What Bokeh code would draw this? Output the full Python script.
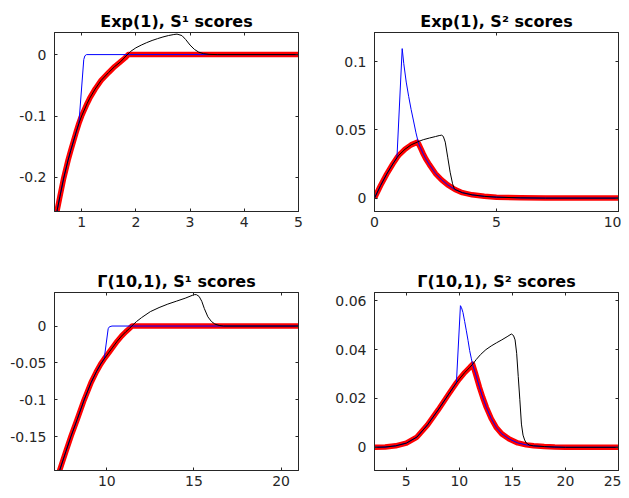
from bokeh.plotting import figure
from bokeh.layouts import column, row
from bokeh.models import FixedTicker, LinearAxis, Range1d
from bokeh.embed import file_html
from bokeh.resources import INLINE

# ---------------- data ----------------
titles = ["Exp(1), S\u00b9 scores", "Exp(1), S\u00b2 scores",
          "\u0393(10,1), S\u00b9 scores", "\u0393(10,1), S\u00b2 scores"]

# Panel 1: Exp(1), S1
p1_red_x = [0.50, 0.55, 0.60, 0.67, 0.75, 0.80, 0.90, 0.95, 1.00, 1.10, 1.15, 1.25, 1.36, 1.50, 1.61, 1.72, 1.80, 1.86, 5.00]
p1_red_y = [-0.280, -0.253, -0.231, -0.201, -0.172, -0.156, -0.126, -0.112, -0.100, -0.080, -0.071, -0.056, -0.042, -0.029, -0.0195, -0.0115, -0.0055, 0.0, 0.0]
p1_blue_x = [0.50, 0.55, 0.60, 0.67, 0.75, 0.80, 0.90, 0.95, 1.04, 1.06, 1.09, 5.00]
p1_blue_y = [-0.280, -0.253, -0.231, -0.201, -0.172, -0.156, -0.126, -0.112, -0.008, -0.002, 0.0, 0.0]
p1_black_x = [0.50, 0.55, 0.60, 0.67, 0.75, 0.80, 0.90, 0.95, 1.00, 1.10, 1.15, 1.25, 1.36, 1.50, 1.61, 1.72,
              1.80, 1.90, 2.00, 2.10, 2.20, 2.30, 2.40, 2.50, 2.60, 2.70, 2.76,
              2.85, 2.92, 3.00, 3.08, 3.16, 3.25, 3.35, 3.50, 5.00]
p1_black_y = [-0.280, -0.253, -0.231, -0.201, -0.172, -0.156, -0.126, -0.112, -0.100, -0.080, -0.071, -0.056, -0.042, -0.029, -0.0195, -0.0115,
              -0.004, 0.005, 0.011, 0.0155, 0.0195, 0.023, 0.026, 0.0287, 0.031, 0.0327, 0.0334,
              0.031, 0.0245, 0.0155, 0.0085, 0.004, 0.0015, 0.0004, 0.0, 0.0]

# Panel 2: Exp(1), S2
p2_red_x = [0.0, 0.25, 0.5, 0.75, 0.92, 1.0, 1.25, 1.5, 1.75, 1.8, 1.9, 2.0, 2.1, 2.25, 2.5, 2.75, 3.0, 3.3, 3.6, 4.0, 4.5, 5.0, 6.0, 7.0, 10.0]
p2_red_y = [0.0, 0.0092, 0.0176, 0.0250, 0.0296, 0.0315, 0.0358, 0.0390, 0.0410, 0.0400, 0.0362, 0.0323, 0.0288, 0.0245, 0.0180, 0.0134, 0.0097, 0.0063, 0.0040, 0.0024, 0.0013, 0.0007, 0.0002, 0.0, 0.0]
p2_blue_x = [0.0, 0.25, 0.5, 0.75, 0.92, 1.135, 1.2, 1.3, 1.4, 1.5, 1.6, 1.7, 1.8, 1.85,
             1.9, 2.0, 2.1, 2.25, 2.5, 2.75, 3.0, 3.3, 3.6, 4.0, 4.5, 5.0, 6.0, 7.0, 10.0]
p2_blue_y = [0.0, 0.0092, 0.0176, 0.0250, 0.0296, 0.1095, 0.0985, 0.0850, 0.0745, 0.0650, 0.0565, 0.0478, 0.0405, 0.0381,
             0.0362, 0.0323, 0.0288, 0.0245, 0.0180, 0.0134, 0.0097, 0.0063, 0.0040, 0.0024, 0.0013, 0.0007, 0.0002, 0.0, 0.0]
p2_black_x = [0.0, 0.25, 0.5, 0.75, 0.92, 1.0, 1.25, 1.5, 1.75,
              1.85, 2.0, 2.25, 2.5, 2.65, 2.75, 2.82, 2.9, 3.0, 3.1, 3.2, 3.27,
              3.3, 3.6, 4.0, 4.5, 5.0, 6.0, 7.0, 10.0]
p2_black_y = [0.0, 0.0092, 0.0176, 0.0250, 0.0296, 0.0315, 0.0358, 0.0390, 0.0410,
              0.0418, 0.0428, 0.0440, 0.0451, 0.0458, 0.0461, 0.0452, 0.0410, 0.0300, 0.0190, 0.0105, 0.0068,
              0.0063, 0.0040, 0.0024, 0.0013, 0.0007, 0.0002, 0.0, 0.0]

# Panel 3: Gamma(10,1), S1
p3_red_x = [7.0, 7.3, 7.65, 7.95, 8.3, 8.7, 9.1, 9.4, 9.65, 9.85, 10.1, 10.35, 10.6, 10.85, 11.1, 11.3, 11.45, 21.0]
p3_red_y = [-0.216, -0.195, -0.170, -0.149, -0.1265, -0.100, -0.0765, -0.062, -0.0515, -0.0445, -0.0365, -0.0285, -0.0205, -0.0135, -0.0075, -0.0033, 0.0, 0.0]
p3_blue_x = [7.0, 7.3, 7.65, 7.95, 8.3, 8.7, 9.1, 9.4, 9.65, 9.85, 10.08, 10.15, 10.3, 21.0]
p3_blue_y = [-0.216, -0.195, -0.170, -0.149, -0.1265, -0.100, -0.0765, -0.062, -0.0515, -0.0445, -0.0036, -0.001, 0.0, 0.0]
p3_black_x = [7.0, 7.3, 7.65, 7.95, 8.3, 8.7, 9.1, 9.4, 9.65, 9.85, 10.1, 10.35, 10.6, 10.85, 11.1, 11.3,
              11.45, 11.7, 12.0, 12.5, 13.0, 13.5, 14.0, 14.5, 14.9, 15.05, 15.15, 15.3, 15.45, 15.6, 15.8, 16.0, 16.2, 16.45, 16.7, 21.0]
p3_black_y = [-0.216, -0.195, -0.170, -0.149, -0.1265, -0.100, -0.0765, -0.062, -0.0515, -0.0445, -0.0365, -0.0285, -0.0205, -0.0135, -0.0075, -0.0033,
              0.0005, 0.006, 0.0115, 0.0195, 0.025, 0.0297, 0.0337, 0.0377, 0.0415, 0.0426, 0.0424, 0.0400, 0.0335, 0.0235, 0.0125, 0.0063, 0.0027, 0.0008, 0.0, 0.0]

# Panel 4: Gamma(10,1), S2
p4_red_x = [2.0, 3.0, 4.0, 5.0, 6.0, 7.0, 8.0, 9.0, 9.72, 10.0, 10.5, 11.0, 11.25,
            11.5, 11.9, 12.2, 12.54, 13.0, 13.5, 14.0, 14.7, 15.5, 16.3, 17.0, 18.0, 19.0, 20.0, 25.0]
p4_red_y = [0.0, 0.0001, 0.0006, 0.0017, 0.0042, 0.0092, 0.0153, 0.0218, 0.0264, 0.0280, 0.0306, 0.0328, 0.0340,
            0.0305, 0.0245, 0.0205, 0.0164, 0.0118, 0.0080, 0.0055, 0.0034, 0.0018, 0.0010, 0.0006, 0.0003, 0.0001, 0.0, 0.0]
p4_blue_x = [2.0, 3.0, 4.0, 5.0, 6.0, 7.0, 8.0, 9.0, 9.72,
             10.1, 10.2, 10.34, 10.5, 10.66, 10.82, 10.97, 11.12, 11.28,
             11.5, 11.9, 12.2, 12.54, 13.0, 13.5, 14.0, 14.7, 15.5, 16.3, 17.0, 18.0, 19.0, 20.0, 25.0]
p4_blue_y = [0.0, 0.0001, 0.0006, 0.0017, 0.0042, 0.0092, 0.0153, 0.0218, 0.0264,
             0.0580, 0.0572, 0.0552, 0.0515, 0.0477, 0.0437, 0.0396, 0.0365, 0.0334,
             0.0305, 0.0245, 0.0205, 0.0164, 0.0118, 0.0080, 0.0055, 0.0034, 0.0018, 0.0010, 0.0006, 0.0003, 0.0001, 0.0, 0.0]
p4_black_x = [2.0, 3.0, 4.0, 5.0, 6.0, 7.0, 8.0, 9.0, 9.72, 10.0, 10.5, 11.0, 11.25,
              11.6, 12.0, 12.5, 13.0, 13.5, 14.0, 14.5, 14.9, 15.1, 15.25, 15.4, 15.55, 15.7, 15.85, 16.0, 16.15, 16.3, 16.6,
              17.0, 18.0, 19.0, 20.0, 25.0]
p4_black_y = [0.0, 0.0001, 0.0006, 0.0017, 0.0042, 0.0092, 0.0153, 0.0218, 0.0264, 0.0280, 0.0306, 0.0328, 0.0340,
              0.0360, 0.0380, 0.0400, 0.0415, 0.0428, 0.0440, 0.0453, 0.0464, 0.0458, 0.0440, 0.0385, 0.0290, 0.0195, 0.0095, 0.0050, 0.0030, 0.0018, 0.0009,
              0.0006, 0.0003, 0.0001, 0.0, 0.0]

# axis limits and ticks
p1_xlim, p1_ylim = (0.5, 5.0), (-0.2555, 0.036)
p2_xlim, p2_ylim = (0.0, 10.0), (-0.0098, 0.1213)
p3_xlim, p3_ylim = (7.0, 21.0), (-0.1955, 0.0454)
p4_xlim, p4_ylim = (2.0, 25.0), (-0.0095, 0.0634)

p1_xticks, p1_xlabels = [1, 2, 3, 4, 5], ["1", "2", "3", "4", "5"]
p1_yticks, p1_ylabels = [-0.2, -0.1, 0], ["-0.2", "-0.1", "0"]
p2_xticks, p2_xlabels = [0, 5, 10], ["0", "5", "10"]
p2_yticks, p2_ylabels = [0, 0.05, 0.1], ["0", "0.05", "0.1"]
p3_xticks, p3_xlabels = [10, 15, 20], ["10", "15", "20"]
p3_yticks, p3_ylabels = [-0.15, -0.1, -0.05, 0], ["-0.15", "-0.1", "-0.05", "0"]
p4_xticks, p4_xlabels = [5, 10, 15, 20, 25], ["5", "10", "15", "20", "25"]
p4_yticks, p4_ylabels = [0, 0.02, 0.04, 0.06], ["0", "0.02", "0.04", "0.06"]

AX = "#262626"
FONT = "DejaVu Sans"
TITLE_SIZE = "16px"


def style_axis(ax, ticks, labels, show_labels, standoff):
    ax.ticker = FixedTicker(ticks=ticks)
    ax.major_tick_in = 3
    ax.major_tick_out = 0
    ax.minor_tick_line_color = None
    ax.axis_line_color = AX
    ax.major_tick_line_color = AX
    ax.major_label_text_font = FONT
    if show_labels:
        ax.major_label_overrides = {t: l for t, l in zip(ticks, labels)}
        ax.major_label_text_color = AX
        ax.major_label_text_font_size = "14px"
        ax.major_label_standoff = standoff
    else:
        ax.major_label_text_color = None
        ax.major_label_text_font_size = "1px"
        ax.major_label_standoff = 0


def make(title, xlim, ylim, xt, xl, yt, yl, w, h, bl, br, bt, bb, red, blue, black):
    p = figure(width=w, height=h, output_backend="svg", toolbar_location=None,
               title=title, x_range=Range1d(*xlim), y_range=Range1d(*ylim),
               min_border_left=bl, min_border_right=br, min_border_top=bt, min_border_bottom=bb)
    p.xgrid.visible = False
    p.ygrid.visible = False
    p.outline_line_color = AX
    p.background_fill_color = "white"
    p.border_fill_color = "white"
    style_axis(p.xaxis[0], xt, xl, True, 5)
    style_axis(p.yaxis[0], yt, yl, True, 8)
    top = LinearAxis()
    style_axis(top, xt, xl, False, 0)
    right = LinearAxis()
    style_axis(right, yt, yl, False, 0)
    p.add_layout(top, "above")
    p.add_layout(right, "right")
    p.title.text_font = FONT
    p.title.text_font_style = "bold"
    p.title.text_font_size = TITLE_SIZE
    p.title.text_color = "black"
    p.title.align = "center"
    p.title.standoff = 4
    p.line(red[0], red[1], line_color="#ff0000", line_width=5.5, line_join="round")
    p.line(blue[0], blue[1], line_color="#0000ff", line_width=1)
    p.line(black[0], black[1], line_color="#000000", line_width=1)
    return p


f1 = make(titles[0], p1_xlim, p1_ylim, p1_xticks, p1_xlabels, p1_yticks, p1_ylabels,
          318, 259, 54, 20, 32, 48,
          (p1_red_x, p1_red_y), (p1_blue_x, p1_blue_y), (p1_black_x, p1_black_y))
f2 = make(titles[1], p2_xlim, p2_ylim, p2_xticks, p2_xlabels, p2_yticks, p2_ylabels,
          303, 259, 56, 3, 32, 48,
          (p2_red_x, p2_red_y), (p2_blue_x, p2_blue_y), (p2_black_x, p2_black_y))
f3 = make(titles[2], p3_xlim, p3_ylim, p3_xticks, p3_xlabels, p3_yticks, p3_ylabels,
          318, 231, 54, 20, 33, 20,
          (p3_red_x, p3_red_y), (p3_blue_x, p3_blue_y), (p3_black_x, p3_black_y))
f4 = make(titles[3], p4_xlim, p4_ylim, p4_xticks, p4_xlabels, p4_yticks, p4_ylabels,
          303, 231, 56, 3, 33, 20,
          (p4_red_x, p4_red_y), (p4_blue_x, p4_blue_y), (p4_black_x, p4_black_y))

layout = column(row(f1, f2), row(f3, f4))
open("out.html", "w").write(file_html(layout, INLINE))
